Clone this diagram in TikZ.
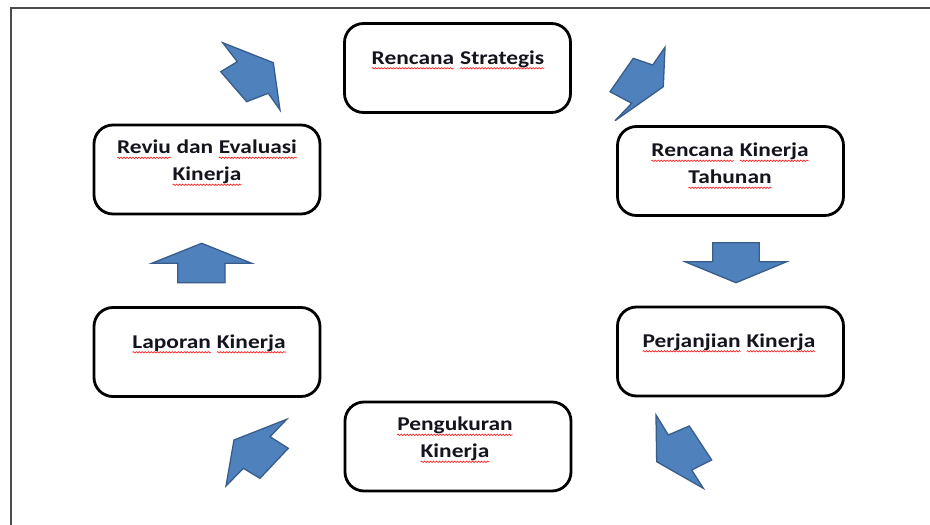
\documentclass[tikz,border=0pt]{standalone}
\usepackage{fontspec}
\setmainfont{Carlito}[FakeStretch=1.2]
\usetikzlibrary{decorations.pathmorphing}
\definecolor{arrfill}{HTML}{4F81BD}
\definecolor{arrline}{HTML}{385D8A}
\definecolor{txt}{HTML}{14141E}
\newcommand\spw[1]{\tikz[baseline=(w.base)]{\node[inner sep=0pt,outer sep=0pt,text=txt,anchor=base](w){#1};
  \draw[red!85!white,line width=0.7pt,decorate,decoration={snake,amplitude=0.7pt,segment length=3pt}]
   ([yshift=-4pt]w.base west) -- ([yshift=-4pt]w.base east);}}
\begin{document}
\begin{tikzpicture}[x=1pt,y=-1pt,
  box/.style={draw=black,line width=2.8pt,rounded corners=19pt,fill=white,
    minimum width=226pt,minimum height=89pt,inner sep=0pt,outer sep=0pt},
  lbl/.style={font=\fontsize{19.5}{27}\selectfont\bfseries,text=txt,align=center,inner sep=0pt},
  blk/.style={fill=arrfill,draw=arrline,line width=1.3pt,line join=miter}]
\useasboundingbox (0,0) rectangle (930,525);
\fill[white] (0,0) rectangle (930,525);
% frame
\draw[line width=2pt,draw=black!70] (11,525) -- (11,8) -- (930,8);
% boxes
\node[box] (rs)  at (457.5,68)  {};
\node[box] (rkt) at (730.5,171) {};
\node[box] (pk)  at (730.5,351.5) {};
\node[box] (pg)  at (458,446.5) {};
\node[box] (lk)  at (207,352)   {};
\node[box] (re)  at (207,169.5) {};
% labels
\node[lbl] (trs)  at (458,60)  {\spw{Rencana} \spw{Strategis}};
\node[lbl] (trkt) at (730,166) {\spw{Rencana} \spw{Kinerja}\\ \spw{Tahunan}};
\node[lbl] (tpk)  at (729,343) {\spw{Perjanjian} \spw{Kinerja}};
\node[lbl] (tpg)  at (455,440) {\spw{Pengukuran}\\ \spw{Kinerja}};
\node[lbl] (tlk)  at (209,344) {\spw{Laporan} \spw{Kinerja}};
\node[lbl] (tre)  at (207,163) {\spw{Reviu} dan \spw{Evaluasi}\\ \spw{Kinerja}};
% block arrows
\draw[blk] (222.7,42.7) -- (273.3,62.7) -- (280,110) -- (268.3,93.3) -- (246.7,101.7) -- (220.7,71.7) -- (237.3,61.7) -- cycle;
\draw[blk] (665,47.3) -- (652.7,65) -- (633.3,58.3) -- (610,91.7) -- (631.7,103.3) -- (615,120.7) -- (663.3,86.7) -- cycle;
\draw[blk] (712.7,242.7) -- (759.3,242.7) -- (759.3,261.7) -- (786.7,261.7) -- (736,282.7) -- (685,261.7) -- (712.7,261.7) -- cycle;
\draw[blk] (656,415) -- (668.3,435) -- (689.3,426) -- (711.7,460) -- (691.7,470) -- (703.3,488.3) -- (656.7,461.7) -- cycle;
\draw[blk] (286.7,419.3) -- (270,436.7) -- (288.3,448.3) -- (260,478.3) -- (243.3,468.3) -- (226,486) -- (234,440) -- cycle;
\draw[blk] (201.7,243.3) -- (251.7,263.3) -- (225,263.3) -- (225,282.7) -- (177.7,282.7) -- (177.7,263.3) -- (151.7,263.3) -- cycle;
\end{tikzpicture}
\end{document}
